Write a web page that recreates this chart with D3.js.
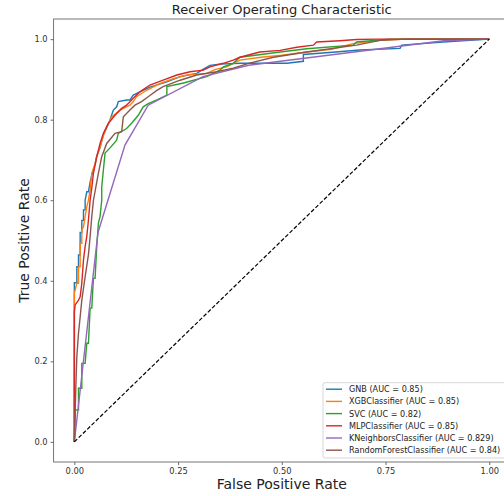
<!DOCTYPE html>
<html>
<head>
<meta charset="utf-8">
<script src="https://cdn.jsdelivr.net/npm/d3@7"></script>
<style>
  html, body { margin: 0; padding: 0; background: #fff; }
  svg { display: block; font-family: "DejaVu Sans", sans-serif; }
</style>
</head>
<body>
<svg id="chart" width="504" height="496"></svg>
<script>
// ---------------- data ----------------
const title = "Receiver Operating Characteristic";
const xLabel = "False Positive Rate";
const yLabel = "True Positive Rate";
const xTicks = [0, 0.25, 0.5, 0.75, 1.0];
const yTicks = [0, 0.2, 0.4, 0.6, 0.8, 1.0];

const seriesNames = ["GNB", "XGBClassifier", "SVC", "MLPClassifier", "KNeighborsClassifier", "RandomForestClassifier"];
const seriesAuc = ["0.85", "0.85", "0.82", "0.85", "0.829", "0.84"];
const seriesColors = ["#1f77b4", "#ff7f0e", "#2ca02c", "#d62728", "#9467bd", "#8c564b"];

// [fpr, tpr]
const gnbRoc = [[0,0],[0,0.395],[0.006,0.395],[0.006,0.435],[0.01,0.435],[0.01,0.464],[0.014,0.464],[0.014,0.52],[0.018,0.52],[0.018,0.55],[0.022,0.55],[0.022,0.576],[0.026,0.576],[0.026,0.60],[0.03,0.621],[0.034,0.621],[0.038,0.645],[0.042,0.662],[0.05,0.69],[0.054,0.71],[0.062,0.73],[0.066,0.748],[0.07,0.762],[0.078,0.78],[0.086,0.799],[0.09,0.812],[0.094,0.824],[0.102,0.832],[0.106,0.845],[0.126,0.849],[0.134,0.849],[0.142,0.861],[0.158,0.869],[0.182,0.881],[0.223,0.894],[0.255,0.907],[0.295,0.915],[0.31,0.925],[0.327,0.935],[0.35,0.938],[0.40,0.94],[0.512,0.94],[0.552,0.945],[0.552,0.962],[0.63,0.968],[0.688,0.973],[0.785,0.977],[0.789,0.985],[0.889,0.993],[1,1]];
const xgbRoc = [[0,0],[0,0.37],[0.002,0.377],[0.006,0.394],[0.01,0.394],[0.01,0.435],[0.014,0.435],[0.014,0.493],[0.018,0.493],[0.018,0.526],[0.022,0.534],[0.026,0.559],[0.03,0.584],[0.034,0.60],[0.038,0.625],[0.042,0.667],[0.05,0.69],[0.054,0.708],[0.062,0.733],[0.07,0.76],[0.078,0.783],[0.09,0.807],[0.11,0.824],[0.134,0.836],[0.142,0.845],[0.15,0.857],[0.174,0.873],[0.207,0.89],[0.239,0.902],[0.271,0.911],[0.319,0.915],[0.34,0.925],[0.367,0.931],[0.399,0.948],[0.45,0.955],[0.5,0.96],[0.56,0.968],[0.62,0.975],[0.672,0.989],[0.737,0.997],[0.8,1],[1,1]];
const svcRoc = [[0,0],[0.002,0.079],[0.01,0.079],[0.01,0.133],[0.018,0.133],[0.018,0.195],[0.026,0.195],[0.03,0.245],[0.034,0.245],[0.038,0.332],[0.042,0.332],[0.046,0.406],[0.05,0.406],[0.054,0.485],[0.058,0.543],[0.062,0.56],[0.066,0.6],[0.066,0.633],[0.07,0.675],[0.074,0.717],[0.086,0.73],[0.102,0.749],[0.106,0.766],[0.126,0.778],[0.138,0.791],[0.154,0.811],[0.166,0.832],[0.178,0.84],[0.199,0.849],[0.223,0.861],[0.223,0.882],[0.263,0.891],[0.319,0.907],[0.351,0.923],[0.359,0.931],[0.383,0.94],[0.399,0.955],[0.45,0.962],[0.496,0.968],[0.56,0.976],[0.672,0.985],[0.68,0.993],[0.737,0.998],[0.76,1],[1,1]];
const mlpRoc = [[0,0],[0,0.323],[0.002,0.34],[0.01,0.352],[0.014,0.36],[0.018,0.394],[0.022,0.452],[0.026,0.485],[0.03,0.51],[0.034,0.551],[0.038,0.6],[0.042,0.63],[0.046,0.667],[0.054,0.708],[0.062,0.741],[0.07,0.766],[0.082,0.791],[0.098,0.811],[0.114,0.828],[0.126,0.836],[0.142,0.853],[0.158,0.869],[0.182,0.886],[0.214,0.898],[0.247,0.911],[0.279,0.919],[0.311,0.923],[0.327,0.931],[0.359,0.94],[0.383,0.948],[0.399,0.955],[0.447,0.968],[0.496,0.972],[0.536,0.98],[0.576,0.985],[0.584,0.993],[0.64,0.996],[0.68,0.999],[0.729,1],[1,1]];
const knnRoc = [[0,0],[0.057,0.52],[0.122,0.737],[0.178,0.836],[0.31,0.907],[0.42,0.935],[0.89,0.996],[1,1]];
const rfRoc = [[0,0],[0.004,0.15],[0.006,0.212],[0.01,0.27],[0.014,0.31],[0.018,0.352],[0.026,0.41],[0.034,0.465],[0.038,0.51],[0.042,0.559],[0.046,0.6],[0.058,0.667],[0.066,0.708],[0.078,0.741],[0.098,0.766],[0.114,0.77],[0.118,0.807],[0.134,0.824],[0.146,0.836],[0.162,0.845],[0.178,0.857],[0.198,0.872],[0.214,0.882],[0.255,0.898],[0.295,0.911],[0.343,0.919],[0.383,0.928],[0.42,0.94],[0.48,0.955],[0.56,0.968],[0.68,0.985],[0.737,0.997],[0.8,1],[1,1]];
const chanceLine = [[0,0],[1,1]];

const rocData = [gnbRoc, xgbRoc, svcRoc, mlpRoc, knnRoc, rfRoc];

// ---------------- layout ----------------
const svg = d3.select("#chart");
svg.append("rect").attr("width", 504).attr("height", 496).attr("fill", "#fff");

const plot = { left: 53.6, right: 510, top: 19, bottom: 462 };
const x = d3.scaleLinear().domain([-0.05, 1.05]).range([plot.left, plot.right]);
const y = d3.scaleLinear().domain([-0.05, 1.05]).range([plot.bottom, plot.top]);

// axes
const xAxis = d3.axisBottom(x).tickValues(xTicks).tickFormat(d3.format(".2f")).tickSize(3).tickPadding(3).tickSizeOuter(0);
const yAxis = d3.axisLeft(y).tickValues(yTicks).tickFormat(d3.format(".1f")).tickSize(3).tickPadding(3).tickSizeOuter(0);

const gx = svg.append("g").attr("transform", `translate(0,${plot.bottom})`).call(xAxis);
const gy = svg.append("g").attr("transform", `translate(${plot.left},0)`).call(yAxis);
[gx, gy].forEach(g => {
  g.select(".domain").remove();
  g.selectAll(".tick line").attr("stroke", "#444").attr("stroke-width", 0.8);
  g.selectAll(".tick text").attr("fill", "#333").style("font-size", "8.3px").style("font-family", "DejaVu Sans");
});

// spines
svg.append("rect")
  .attr("x", plot.left).attr("y", plot.top)
  .attr("width", plot.right - plot.left).attr("height", plot.bottom - plot.top)
  .attr("fill", "none").attr("stroke", "#666").attr("stroke-width", 0.9);

// curves
const line = d3.line().x(d => x(d[0])).y(d => y(d[1]));
rocData.forEach((pts, i) => {
  svg.append("path").datum(pts)
    .attr("d", line)
    .attr("fill", "none")
    .attr("stroke", seriesColors[i])
    .attr("stroke-width", 1.4)
    .attr("stroke-linejoin", "miter");
});

svg.append("path").datum(chanceLine)
  .attr("d", line)
  .attr("fill", "none")
  .attr("stroke", "#000")
  .attr("stroke-width", 1.2)
  .attr("stroke-dasharray", "4,2");

// title & labels
svg.append("text").attr("x", (plot.left + plot.right) / 2).attr("y", 14)
  .attr("text-anchor", "middle").style("font-size", "13px").attr("fill", "#222").text(title);
svg.append("text").attr("x", (plot.left + plot.right) / 2).attr("y", 489)
  .attr("text-anchor", "middle").style("font-size", "14px").attr("fill", "#222").text(xLabel);
svg.append("text").attr("transform", `translate(29,${(plot.top + plot.bottom) / 2}) rotate(-90)`)
  .attr("text-anchor", "middle").style("font-size", "14px").attr("fill", "#222").text(yLabel);

// legend
const lg = svg.append("g").attr("transform", "translate(323,382.7)");
lg.append("rect").attr("width", 184).attr("height", 75.3).attr("rx", 2)
  .attr("fill", "#fff").attr("fill-opacity", 0.8).attr("stroke", "#ccc").attr("stroke-width", 0.8);
seriesNames.forEach((n, i) => {
  const yy = 6.5 + i * 12.2;
  lg.append("line").attr("x1", 3).attr("x2", 19).attr("y1", yy).attr("y2", yy)
    .attr("stroke", seriesColors[i]).attr("stroke-width", 1.4);
  lg.append("text").attr("x", 26).attr("y", yy + 3)
    .style("font-size", "8.1px").attr("fill", "#222")
    .text(`${n} (AUC = ${seriesAuc[i]})`);
});
</script>
</body>
</html>
